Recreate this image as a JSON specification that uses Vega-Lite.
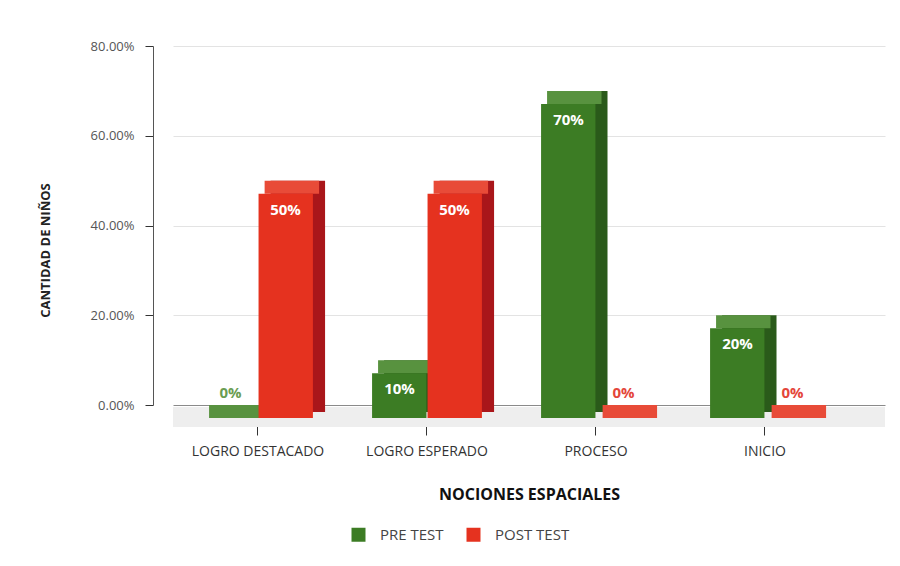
{
  "$schema": "https://vega.github.io/schema/vega-lite/v6.json",
  "autosize": {"type": "none"},
  "padding": {"left": 173, "top": 46, "right": 15, "bottom": 161},
  "width": 712,
  "height": 359,
  "background": "white",
  "config": {"view": {"stroke": null}, "font": "Open Sans"},
  "data": {
    "values": [
      {"categoria": "LOGRO DESTACADO", "serie": "PRE TEST", "valor": 0},
      {"categoria": "LOGRO DESTACADO", "serie": "POST TEST", "valor": 0.5},
      {"categoria": "LOGRO ESPERADO", "serie": "PRE TEST", "valor": 0.1},
      {"categoria": "LOGRO ESPERADO", "serie": "POST TEST", "valor": 0.5},
      {"categoria": "PROCESO", "serie": "PRE TEST", "valor": 0.7},
      {"categoria": "PROCESO", "serie": "POST TEST", "valor": 0},
      {"categoria": "INICIO", "serie": "PRE TEST", "valor": 0.2},
      {"categoria": "INICIO", "serie": "POST TEST", "valor": 0}
    ]
  },
  "layer": [
    {
      "data": {"values": [{"z": 0}]},
      "mark": {"type": "rule", "strokeWidth": 20, "color": "#eeeeee", "yOffset": 12},
      "encoding": {"y": {"datum": 0, "type": "quantitative", "title": "CANTIDAD DE NIÑOS"}}
    },
    {
      "encoding": {
        "x": {
          "field": "categoria",
          "type": "nominal",
          "title": "NOCIONES ESPACIALES",
          "sort": ["LOGRO DESTACADO", "LOGRO ESPERADO", "PROCESO", "INICIO"],
          "scale": {"paddingInner": 0.35, "paddingOuter": 0.2815, "align": 0.316},
          "axis": {
            "labelAngle": 0,
            "offset": 15,
            "domain": false,
            "tickSize": 15,
            "tickColor": "#333",
            "labelPadding": 9,
            "labelFontSize": 14,
            "labelColor": "#333",
            "titleFontSize": 16,
            "titleFontWeight": "bold",
            "titleColor": "#111",
            "titlePadding": 28,
            "grid": false
          }
        },
        "xOffset": {
          "field": "serie",
          "type": "nominal",
          "sort": ["PRE TEST", "POST TEST"],
          "scale": {"paddingInner": 0.02}
        },
        "y": {
          "field": "valor",
          "type": "quantitative",
          "title": "CANTIDAD DE NIÑOS",
          "scale": {"domain": [0, 0.8]},
          "axis": {
            "format": ".2%",
            "values": [0, 0.2, 0.4, 0.6, 0.8],
            "offset": 20,
            "tickSize": 8,
            "tickColor": "#333",
            "domainColor": "#555",
            "labelPadding": 11,
            "labelFontSize": 13,
            "labelColor": "#555",
            "titleFontSize": 13,
            "titleFontWeight": "bold",
            "titleColor": "#222",
            "titlePadding": 38,
            "titleY": 204,
            "grid": true,
            "gridColor": {"condition": {"test": "datum.value === 0", "value": "#8a8a8a"}, "value": "#e3e3e3"}
          }
        }
      },
      "resolve": {"scale": {"xOffset": "independent"}},
      "layer": [
        {
          "transform": [{"filter": "datum.valor > 0"}],
          "mark": {"type": "bar", "y2Offset": 7},
          "encoding": {
            "xOffset": {
              "field": "serie",
              "type": "nominal",
              "sort": ["PRE TEST", "POST TEST"],
              "scale": {"paddingInner": 0.02, "range": [12, 122]}
            },
            "y2": {"datum": 0},
            "color": {"condition": {"test": "datum.serie === 'PRE TEST'", "value": "#2a5a1a"}, "value": "#a9161a"}
          }
        },
        {
          "mark": {"type": "bar", "y2Offset": 13},
          "encoding": {
            "xOffset": {
              "field": "serie",
              "type": "nominal",
              "sort": ["PRE TEST", "POST TEST"],
              "scale": {"paddingInner": 0.02, "range": [6, 116]}
            },
            "y2": {"field": "valor"},
            "color": {"condition": {"test": "datum.serie === 'PRE TEST'", "value": "#58923f"}, "value": "#e84b38"}
          }
        },
        {
          "mark": {"type": "bar", "yOffset": 13, "y2Offset": 13},
          "encoding": {
            "y2": {"datum": 0},
            "color": {
              "field": "serie",
              "type": "nominal",
              "scale": {"domain": ["PRE TEST", "POST TEST"], "range": ["#3c7c24", "#e5321f"]},
              "legend": {
                "title": null,
                "orient": "none",
                "legendX": 178,
                "legendY": 481,
                "direction": "horizontal",
                "symbolType": "square",
                "symbolSize": 196,
                "symbolStrokeWidth": 0,
                "labelFontSize": 15,
                "labelColor": "#444",
                "columnPadding": 22,
                "labelOffset": 14
              }
            }
          }
        },
        {
          "transform": [{"filter": "datum.valor > 0"}],
          "mark": {"type": "text", "dy": 29, "fontSize": 15, "fontWeight": "bold", "color": "white"},
          "encoding": {"text": {"field": "valor", "type": "quantitative", "format": ".0%"}}
        },
        {
          "transform": [{"filter": "datum.valor === 0"}],
          "mark": {"type": "text", "dy": -12, "fontSize": 15, "fontWeight": "bold"},
          "encoding": {
            "text": {"field": "valor", "type": "quantitative", "format": ".0%"},
            "color": {"condition": {"test": "datum.serie === 'PRE TEST'", "value": "#6a9d52"}, "value": "#e4463a"}
          }
        }
      ]
    }
  ]
}
